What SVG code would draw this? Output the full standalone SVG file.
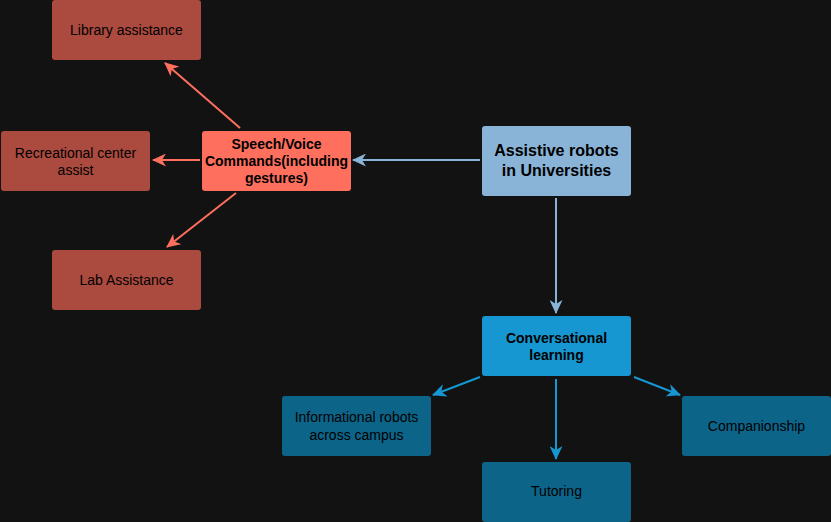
<svg xmlns="http://www.w3.org/2000/svg" width="831" height="522" viewBox="0 0 831 522">
<defs>
<style>
.t{font-family:"Liberation Sans",Arial,sans-serif;font-size:14px;fill:#000;text-anchor:middle}
.b{font-weight:bold}
.red{fill:#ab4a3f}
.sp{fill:#ff6f5e}
.ar{fill:#89b4d7}
.cl{fill:#1697d2}
.dk{fill:#0d6489}
.lr{stroke:#ff6f5e;stroke-width:2;fill:none}
.lb{stroke:#89b4d7;stroke-width:2;fill:none}
.lc{stroke:#1697d2;stroke-width:2;fill:none}
</style>
<marker id="mr" viewBox="0 0 14 13" refX="13" refY="6.5" markerWidth="14" markerHeight="13" markerUnits="userSpaceOnUse" orient="auto"><path d="M0,0 L14,6.5 L0,13 L4,6.5 Z" fill="#ff6f5e"/></marker>
<marker id="mb" viewBox="0 0 14 13" refX="13" refY="6.5" markerWidth="14" markerHeight="13" markerUnits="userSpaceOnUse" orient="auto"><path d="M0,0 L14,6.5 L0,13 L4,6.5 Z" fill="#89b4d7"/></marker>
<marker id="mc" viewBox="0 0 14 13" refX="13" refY="6.5" markerWidth="14" markerHeight="13" markerUnits="userSpaceOnUse" orient="auto"><path d="M0,0 L14,6.5 L0,13 L4,6.5 Z" fill="#1697d2"/></marker>
</defs>
<rect x="0" y="0" width="831" height="522" fill="#121212"/>
<g id="connectors">
<line class="lr" x1="240" y1="128" x2="165" y2="63" marker-end="url(#mr)"/>
<line class="lr" x1="200" y1="160" x2="153" y2="160" marker-end="url(#mr)"/>
<line class="lr" x1="236" y1="193" x2="167" y2="247" marker-end="url(#mr)"/>
<line class="lb" x1="480" y1="160" x2="353" y2="160" marker-end="url(#mb)"/>
<line class="lb" x1="556" y1="198" x2="556" y2="313" marker-end="url(#mb)"/>
<line class="lc" x1="480" y1="377" x2="433" y2="395" marker-end="url(#mc)"/>
<line class="lc" x1="556" y1="379" x2="556" y2="459" marker-end="url(#mc)"/>
<line class="lc" x1="634" y1="377" x2="680" y2="395" marker-end="url(#mc)"/>
</g>
<g id="library"><rect class="red" x="52" y="0" width="149" height="60" rx="3"/><text class="t" x="126.5" y="35">Library assistance</text></g>
<g id="recreational"><rect class="red" x="1" y="131" width="149" height="60" rx="3"/><text class="t" x="75.5" y="158">Recreational center</text><text class="t" x="75.5" y="175">assist</text></g>
<g id="speech"><rect class="sp" x="202" y="131" width="149" height="60" rx="3"/><text class="t b" x="276.5" y="149">Speech/Voice</text><text class="t b" x="276.5" y="166">Commands(including</text><text class="t b" x="276.5" y="183">gestures)</text></g>
<g id="lab"><rect class="red" x="52" y="250" width="149" height="60" rx="3"/><text class="t" x="126.5" y="285">Lab Assistance</text></g>
<g id="assistive"><rect class="ar" x="482" y="126" width="149" height="70" rx="3"/><text class="t b" x="556.5" y="156" style="font-size:16px">Assistive robots</text><text class="t b" x="556.5" y="176" style="font-size:16px">in Universities</text></g>
<g id="conversational"><rect class="cl" x="482" y="316" width="149" height="60" rx="3"/><text class="t b" x="556.5" y="343">Conversational</text><text class="t b" x="556.5" y="360">learning</text></g>
<g id="informational"><rect class="dk" x="282" y="396" width="149" height="60" rx="3"/><text class="t" x="356.5" y="422">Informational robots</text><text class="t" x="356.5" y="440">across campus</text></g>
<g id="tutoring"><rect class="dk" x="482" y="462" width="149" height="60" rx="3"/><text class="t" x="556.5" y="496">Tutoring</text></g>
<g id="companionship"><rect class="dk" x="682" y="396" width="149" height="60" rx="3"/><text class="t" x="756.5" y="431">Companionship</text></g>
</svg>
